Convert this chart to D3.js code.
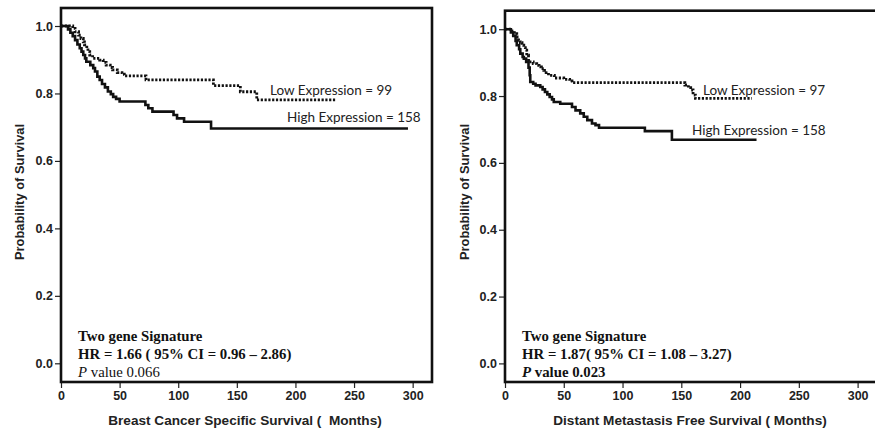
<!DOCTYPE html>
<html>
<head>
<meta charset="utf-8">
<script src="https://cdn.jsdelivr.net/npm/d3@7"></script>
<style>
  body { margin: 0; background: #fff; }
  svg { display: block; }
  .tick text { font-family: "Liberation Sans", Arial, sans-serif; font-weight: bold; font-size: 12.5px; fill: #222; }
  .tick line { stroke: #222; stroke-width: 1.2; }
</style>
</head>
<body>
<div id="vis"></div>
<script>
// survival steps, [months, probability]
const bcssHigh = [[0,1],[6,0.99],[8,0.98],[10,0.97],[12,0.958],[14,0.945],[16,0.934],[17.5,0.924],[19,0.914],[20.5,0.904],[21.6,0.894],[25,0.884],[27.5,0.875],[29,0.865],[31,0.85],[33,0.84],[35,0.828],[37.5,0.818],[40,0.806],[42.5,0.798],[44.5,0.79],[47,0.784],[50,0.776],[72,0.766],[74.5,0.756],[78,0.746],[96,0.736],[99,0.726],[105,0.716],[128,0.696]];
const bcssHighEnd = 296;
const bcssLow = [[0,1],[10,0.993],[12,0.983],[15,0.973],[17,0.963],[19,0.953],[20,0.944],[22,0.934],[23,0.924],[24.5,0.914],[27,0.904],[33,0.899],[36,0.892],[38.5,0.884],[42,0.877],[44,0.87],[48,0.862],[52,0.857],[54,0.852],[72.5,0.84],[130,0.823],[153,0.805],[167,0.781]];
const bcssLowEnd = 234;

const dmfsHigh = [[0,1],[5,0.99],[7,0.98],[9,0.965],[10,0.952],[12,0.94],[13,0.927],[15,0.917],[16,0.912],[18,0.902],[20,0.885],[21,0.862],[21.5,0.842],[24,0.837],[26,0.832],[30,0.827],[32,0.82],[34,0.812],[36,0.805],[38,0.797],[40,0.79],[41.5,0.782],[47,0.777],[57,0.767],[60,0.757],[64,0.748],[67,0.738],[70,0.728],[74,0.718],[77,0.713],[80,0.705],[119,0.695],[142,0.669]];
const dmfsHighEnd = 214;
const dmfsLow = [[0,1],[6,0.995],[8,0.987],[10,0.977],[11.5,0.967],[13,0.96],[14.5,0.952],[16,0.945],[17.3,0.937],[18.5,0.922],[20,0.902],[24,0.897],[27,0.892],[29,0.887],[31,0.882],[33,0.877],[35,0.87],[37,0.862],[42,0.854],[50,0.85],[55,0.845],[57,0.84],[153,0.833],[156,0.825],[158,0.818],[160,0.803],[162,0.793]];
const dmfsLowEnd = 210;

const xTicks = [0, 50, 100, 150, 200, 250, 300];
const yTicks = [0, 0.2, 0.4, 0.6, 0.8, 1.0];

const width = 875, height = 431;

const svg = d3.select("#vis").append("svg")
  .attr("width", width)
  .attr("height", height);

function drawPanel(p) {
  const x = d3.scaleLinear().domain([0, 316.5]).range([p.left, p.right]);
  const y = d3.scaleLinear().domain([0, 1]).range([p.y0, p.y1]);
  const g = svg.append("g");

  g.append("g")
    .attr("transform", `translate(${p.left},0)`)
    .call(d3.axisLeft(y).tickValues(yTicks).tickFormat(d3.format(".1f")).tickSize(6).tickPadding(2))
    .call(a => a.select(".domain").remove());

  g.append("g")
    .attr("transform", `translate(0,${p.bottom})`)
    .call(d3.axisBottom(x).tickValues(xTicks).tickSize(6).tickPadding(3))
    .call(a => a.select(".domain").remove());

  g.append("rect")
    .attr("x", p.left).attr("y", p.top)
    .attr("width", p.right - p.left).attr("height", p.bottom - p.top)
    .attr("fill", "none").attr("stroke", "#111").attr("stroke-width", 2.6);

  const line = d3.line().x(d => x(d[0])).y(d => y(d[1])).curve(d3.curveStepAfter);

  g.append("path")
    .datum(p.high.concat([[p.highEnd, p.high[p.high.length - 1][1]]]))
    .attr("d", line)
    .attr("fill", "none").attr("stroke", "#111").attr("stroke-width", 2.6);

  g.append("path")
    .datum(p.low.concat([[p.lowEnd, p.low[p.low.length - 1][1]]]))
    .attr("d", line)
    .attr("fill", "none").attr("stroke", "#111").attr("stroke-width", 2.8)
    .attr("stroke-dasharray", "2.2,1.6");

  const lab = g.append("g")
    .style("font-family", "Lato, 'Open Sans', sans-serif")
    .style("font-size", "13.5px").style("fill", "#222");
  lab.append("text").attr("x", p.lowLab[0]).attr("y", p.lowLab[1]).text(p.lowText);
  lab.append("text").attr("x", p.highLab[0]).attr("y", p.highLab[1]).text(p.highText);

  const note = g.append("g")
    .style("font-family", "'Liberation Serif', 'Times New Roman', serif")
    .style("font-size", "14.8px").style("fill", "#111");
  note.append("text").attr("x", p.left + 17).attr("y", 341).style("font-weight", "bold").text("Two gene Signature");
  note.append("text").attr("x", p.left + 17).attr("y", 359).style("font-weight", "bold").text(p.hr);
  const pv = note.append("text").attr("x", p.left + 17).attr("y", 376.5)
    .style("font-weight", p.pBold ? "bold" : "normal");
  pv.append("tspan").style("font-style", "italic").text("P");
  pv.append("tspan").text(" value " + p.pval);

  g.append("text")
    .attr("x", p.xTitleX).attr("y", 425)
    .attr("text-anchor", "middle")
    .style("white-space", "pre")
    .style("font-family", "'Liberation Sans', Arial, sans-serif")
    .style("font-weight", "bold").style("font-size", "13.6px").style("fill", "#222")
    .text(p.xTitle);

  g.append("text")
    .attr("transform", `translate(${p.yTitleX},192) rotate(-90)`)
    .attr("text-anchor", "middle")
    .style("font-family", "'Liberation Sans', Arial, sans-serif")
    .style("font-weight", "bold").style("font-size", "12.9px").style("fill", "#222")
    .text("Probability of Survival");
}

drawPanel({
  left: 61, right: 432, top: 8, bottom: 382, y0: 363.3, y1: 26,
  high: bcssHigh, highEnd: bcssHighEnd, low: bcssLow, lowEnd: bcssLowEnd,
  lowText: "Low Expression = 99", lowLab: [270, 95],
  highText: "High Expression = 158", highLab: [287, 122],
  hr: "HR = 1.66 ( 95% CI = 0.96 \u2013 2.86)", pval: "0.066", pBold: false,
  xTitle: "Breast Cancer Specific Survival (  Months)", xTitleX: 245, yTitleX: 24
});

drawPanel({
  left: 505, right: 877, top: 10.7, bottom: 382, y0: 363.4, y1: 29.2,
  high: dmfsHigh, highEnd: dmfsHighEnd, low: dmfsLow, lowEnd: dmfsLowEnd,
  lowText: "Low Expression = 97", lowLab: [703, 95],
  highText: "High Expression = 158", highLab: [692, 135],
  hr: "HR = 1.87( 95% CI = 1.08 \u2013 3.27)", pval: "0.023", pBold: true,
  xTitle: "Distant Metastasis Free Survival ( Months)", xTitleX: 690, yTitleX: 469
});
</script>
</body>
</html>
